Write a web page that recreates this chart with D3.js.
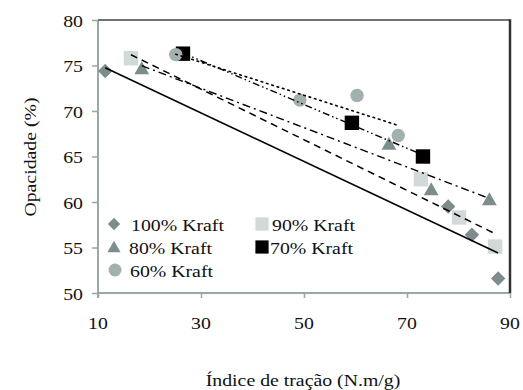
<!DOCTYPE html>
<html>
<head>
<meta charset="utf-8">
<script src="https://cdn.jsdelivr.net/npm/d3@7/dist/d3.min.js"></script>
<style>
  html, body { margin: 0; padding: 0; background: #fff; }
  svg { display: block; }
  text { font-family: "Liberation Serif", "Times New Roman", Times, "DejaVu Serif", serif; fill: #111; }
</style>
</head>
<body>
<svg id="chart" width="523" height="390"></svg>
<script>
// Opacidade x índice de tração, misturas Kraft

const seriesNames = ["100% Kraft", "90% Kraft", "80% Kraft", "70% Kraft", "60% Kraft"];

const kraft100X = [11.4, 78.0, 82.6, 87.7];
const kraft100Y = [74.4, 59.5, 56.4, 51.6];

const kraft90X = [16.4, 72.7, 80.1, 87.1];
const kraft90Y = [75.8, 62.5, 58.3, 55.1];

const kraft80X = [18.5, 66.5, 74.7, 86.0];
const kraft80Y = [74.7, 66.4, 61.4, 60.3];

const kraft70X = [26.5, 59.3, 73.1];
const kraft70Y = [76.3, 68.7, 65.0];

const kraft60X = [25.1, 49.2, 60.3, 68.3];
const kraft60Y = [76.2, 71.2, 71.7, 67.3];

const xTicks = [10, 30, 50, 70, 90];
const yTicks = [50, 55, 60, 65, 70, 75, 80];

const W = 523, H = 390;
const margin = { left: 98, right: 13, top: 20, bottom: 97 };
const FONT = 16.5;
const STRETCH = 1.2; // o texto do original está esticado na horizontal

const svg = d3.select("#chart");

const x = d3.scaleLinear().domain([10, 90]).range([margin.left, W - margin.right]);
const y = d3.scaleLinear().domain([50, 80]).range([H - margin.bottom, margin.top]);

const axisGray = "#9aa7a7";

const styles = {
  "100% Kraft": { shape: "diamond",  fill: "#7d8c8c", dash: null,                 width: 1.6 },
  "90% Kraft":  { shape: "square",   fill: "#d2d9d9", dash: "7,5",                width: 1.5 },
  "80% Kraft":  { shape: "triangle", fill: "#7d8c8c", dash: "8,4,2,4",            width: 1.4 },
  "70% Kraft":  { shape: "square",   fill: "#000000", dash: "7,3,1.5,3,1.5,3",    width: 1.4 },
  "60% Kraft":  { shape: "circle",   fill: "#a2b0b0", dash: "1.6,4",              width: 1.6 }
};

const data = [
  { name: "100% Kraft", xs: kraft100X, ys: kraft100Y },
  { name: "90% Kraft",  xs: kraft90X,  ys: kraft90Y },
  { name: "80% Kraft",  xs: kraft80X,  ys: kraft80Y },
  { name: "70% Kraft",  xs: kraft70X,  ys: kraft70Y },
  { name: "60% Kraft",  xs: kraft60X,  ys: kraft60Y }
];

function addText(parent, px, py, str, opts = {}) {
  const g = parent.append("g")
    .attr("transform", `translate(${px},${py})${opts.rotate ? ` rotate(${opts.rotate})` : ""} scale(${STRETCH},1)`);
  g.append("text")
    .attr("text-anchor", opts.anchor || "start")
    .attr("dy", opts.dy || "0.35em")
    .attr("font-size", opts.size || FONT)
    .text(str);
  return g;
}

function markerPath(shape, s) {
  // s = meia largura
  if (shape === "diamond") return `M0,${-s}L${s},0L0,${s}L${-s},0Z`;
  if (shape === "square") return `M${-s},${-s}H${s}V${s}H${-s}Z`;
  return `M0,${-s * 0.95}L${s},${s * 0.8}L${-s},${s * 0.8}Z`;
}

function drawMarker(parent, shape, cx, cy, s, fill) {
  if (shape === "circle") {
    parent.append("circle").attr("cx", cx).attr("cy", cy).attr("r", s).attr("fill", fill);
  } else {
    parent.append("path")
      .attr("d", markerPath(shape, s))
      .attr("transform", `translate(${cx},${cy})`)
      .attr("fill", fill);
  }
}

const markerSize = { diamond: 7.2, square: 7.2, triangle: 7.4, circle: 6.7 };

// eixos
const yAxis = svg.append("g")
  .attr("transform", `translate(${margin.left},0)`)
  .call(d3.axisLeft(y).tickValues(yTicks).tickSize(6).tickFormat(""));
yAxis.select(".domain").attr("stroke", axisGray).attr("stroke-width", 2)
  .attr("d", `M0,${y(80)}V${y(50) + 5}`);
yAxis.selectAll(".tick line").attr("stroke", axisGray).attr("stroke-width", 1.5);

const xAxis = svg.append("g")
  .attr("transform", `translate(0,${y(50)})`)
  .call(d3.axisBottom(x).tickValues(xTicks).tickSize(5).tickFormat(""));
xAxis.select(".domain").attr("stroke", axisGray).attr("stroke-width", 2)
  .attr("d", `M${x(10)},0H${x(90)}`);
xAxis.selectAll(".tick line").attr("stroke", axisGray).attr("stroke-width", 1.5);

// bordas superior e direita
svg.append("line")
  .attr("x1", x(10)).attr("x2", x(90)).attr("y1", y(80)).attr("y2", y(80))
  .attr("stroke", "#444").attr("stroke-width", 1.5);
svg.append("line")
  .attr("x1", x(90)).attr("x2", x(90)).attr("y1", y(80) - 0.75).attr("y2", y(50))
  .attr("stroke", "#333").attr("stroke-width", 2.5);

// rótulos dos ticks
yTicks.forEach(v => addText(svg, 83, y(v) + 1, String(v), { anchor: "end" }));
xTicks.forEach(v => addText(svg, x(v), 323, String(v), { anchor: "middle" }));

// títulos
addText(svg, 303, 380, "Índice de tração (N.m/g)", { anchor: "middle" });
addText(svg, 30, 157, "Opacidade (%)", { anchor: "middle", rotate: -90 });

// pontos
const pts = svg.append("g");
data.forEach(d => {
  const st = styles[d.name];
  d.xs.forEach((xv, i) => drawMarker(pts, st.shape, x(xv), y(d.ys[i]), markerSize[st.shape], st.fill));
});

// linhas de tendência (regressão linear de cada série)
function linearFit(xs, ys) {
  const mx = d3.mean(xs), my = d3.mean(ys);
  const sxy = d3.sum(xs, (v, i) => (v - mx) * (ys[i] - my));
  const sxx = d3.sum(xs, v => (v - mx) * (v - mx));
  const b = sxy / sxx;
  return v => my + b * (v - mx);
}

const line = d3.line().x(p => x(p[0])).y(p => y(p[1]));
const trends = svg.append("g");
data.forEach(d => {
  const st = styles[d.name];
  const f = linearFit(d.xs, d.ys);
  const ext = d3.extent(d.xs);
  trends.append("path")
    .attr("d", line(ext.map(v => [v, f(v)])))
    .attr("fill", "none")
    .attr("stroke", "#000")
    .attr("stroke-width", st.width)
    .attr("stroke-linecap", d.name === "60% Kraft" ? "round" : "butt")
    .attr("stroke-dasharray", st.dash);
});

// legenda
const legendItems = [
  { name: "100% Kraft", mx: 114, tx: 131, cy: 224 },
  { name: "80% Kraft",  mx: 114, tx: 129, cy: 247 },
  { name: "60% Kraft",  mx: 115, tx: 130, cy: 270 },
  { name: "90% Kraft",  mx: 262, tx: 272, cy: 224 },
  { name: "70% Kraft",  mx: 262, tx: 270, cy: 247 }
];
const legend = svg.append("g");
legendItems.forEach(it => {
  const st = styles[it.name];
  const s = st.shape === "circle" ? 6.5 : st.shape === "diamond" ? 6.2 : 6.6;
  drawMarker(legend, st.shape, it.mx, it.cy, s, st.fill);
  addText(legend, it.tx, it.cy + 1, it.name);
});
</script>
</body>
</html>
